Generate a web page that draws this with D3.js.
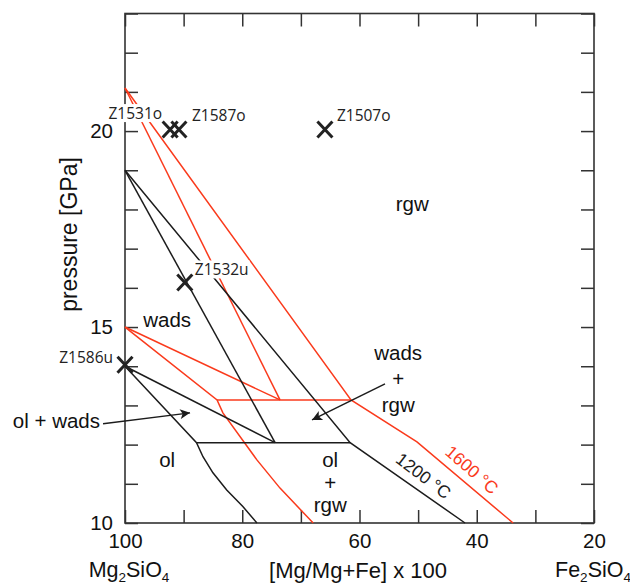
<!DOCTYPE html>
<html>
<head>
<meta charset="utf-8">
<script src="https://cdn.jsdelivr.net/npm/d3@7/dist/d3.min.js"></script>
<style>
  html, body { margin: 0; padding: 0; background: #fff; }
  svg { display: block; }
</style>
</head>
<body>
<div id="chart"></div>
<script>
// ---------------- data ----------------
// x: Mg# = [Mg/(Mg+Fe)] x 100 ; y: pressure in GPa
const xTickValues = [100, 90, 80, 70, 60, 50, 40, 30, 20];
const xTickLabels = [100, 80, 60, 40, 20];
const yTickValues = [10, 11, 12, 13, 14, 15, 16, 17, 18, 19, 20, 21, 22, 23];
const yTickLabels = [10, 15, 20];

// 1200 °C phase boundaries
const black_rgw_boundary   = [[100, 19.0], [61.6, 12.05], [42.0, 10.0]];
const black_wads_boundary  = [[100, 19.0], [74.4, 12.05]];
const black_olwads_upper   = [[100, 14.0], [74.4, 12.05]];
const black_ol_boundary    = [[100, 14.0], [87.8, 12.05], [86.7, 11.69], [85.0, 11.28], [82.65, 10.84], [79.9, 10.42], [77.5, 10.0]];
const black_tie            = [[87.8, 12.05], [61.6, 12.05]];

// 1600 °C phase boundaries
const red_rgw_boundary     = [[100, 21.1], [61.45, 13.14], [50.2, 12.07], [33.8, 10.0]];
const red_wads_boundary    = [[100, 21.1], [73.56, 13.14]];
const red_olwads_upper     = [[100, 15.0], [73.56, 13.14]];
const red_ol_boundary      = [[100, 15.0], [84.3, 13.14], [83.3, 12.81], [77.5, 11.61], [73.56, 10.89], [67.9, 10.0]];
const red_tie              = [[84.3, 13.14], [61.45, 13.14]];

// experiments
const sampleNames = ["Z1531o", "Z1587o", "Z1507o", "Z1532u", "Z1586u"];
const sampleMg    = [92.3, 90.8, 65.9, 89.8, 100.0];
const sampleP     = [20.0, 20.0, 20.0, 16.1, 14.0];

// ---------------- drawing ----------------
const W = 630, H = 584;
const RED = "#fa3a1c", INK = "#1c1c1c";
const FONT = "'Liberation Sans', Arial, Helvetica, sans-serif";
const SFONT = "'Open Sans', 'Noto Sans', sans-serif";

const svg = d3.select("#chart").append("svg").attr("width", W).attr("height", H);
const x = d3.scaleLinear().domain([100, 20]).range([125, 594]);
const y = d3.scaleLinear().domain([10, 23]).range([523, 13.5]);

const line = d3.line().x(d => x(d[0])).y(d => y(d[1]));

// axes
function styleAxis(g) {
  g.select(".domain").remove();
  g.selectAll(".tick line").attr("stroke", "#333").attr("stroke-width", 1.5);
  g.selectAll(".tick text").attr("fill", "#111").attr("font-family", FONT).attr("font-size", 20.5);
}
svg.append("g").attr("transform", `translate(0,${y(10)})`)
  .call(d3.axisBottom(x).tickValues(xTickValues).tickSize(-13).tickPadding(10)
    .tickFormat(d => xTickLabels.includes(d) ? d : ""))
  .call(styleAxis);
svg.append("g").attr("transform", `translate(0,${y(23)})`)
  .call(d3.axisTop(x).tickValues(xTickValues).tickSize(-13).tickFormat(""))
  .call(styleAxis);
svg.append("g").attr("transform", `translate(${x(100)},0)`)
  .call(d3.axisLeft(y).tickValues(yTickValues).tickSize(-13).tickPadding(12)
    .tickFormat(d => yTickLabels.includes(d) ? d : ""))
  .call(styleAxis);
svg.append("g").attr("transform", `translate(${x(20)},0)`)
  .call(d3.axisRight(y).tickValues(yTickValues).tickSize(-13).tickFormat(""))
  .call(styleAxis);

svg.append("rect")
  .attr("x", x(100)).attr("y", y(23))
  .attr("width", x(20) - x(100)).attr("height", y(10) - y(23))
  .attr("fill", "none").attr("stroke", "#333").attr("stroke-width", 1.6);

// phase boundaries
const redLines = [red_rgw_boundary, red_wads_boundary, red_olwads_upper, red_ol_boundary, red_tie];
const blackLines = [black_rgw_boundary, black_wads_boundary, black_olwads_upper, black_ol_boundary, black_tie];
svg.append("g").selectAll("path").data(redLines).join("path")
  .attr("d", line).attr("fill", "none").attr("stroke", RED).attr("stroke-width", 1.5);
svg.append("g").selectAll("path").data(blackLines).join("path")
  .attr("d", line).attr("fill", "none").attr("stroke", INK).attr("stroke-width", 1.5);

// sample labels (with white background) and X markers
const labelOffsets = [[-8, -12, "end"], [13, -10.5, "start"], [12, -10, "start"], [10, -8.5, "start"], [-12, -3, "end"]];
const samples = sampleNames.map((n, i) => ({ name: n, mg: sampleMg[i], p: sampleP[i], off: labelOffsets[i] }));

const lg = svg.append("g");
samples.forEach(s => {
  const t = lg.append("text")
    .attr("x", x(s.mg) + s.off[0]).attr("y", y(s.p) + s.off[1])
    .attr("text-anchor", s.off[2])
    .attr("font-family", SFONT).attr("font-size", 15.5).attr("fill", "#222")
    .text(s.name);
  const bb = t.node().getBBox();
  lg.insert("rect", "text").attr("x", bb.x - 1).attr("y", bb.y + 2)
    .attr("width", bb.width + 2).attr("height", bb.height - 4).attr("fill", "#fff");
});
svg.append("g").selectAll("path").data(samples).join("path")
  .attr("d", d => {
    const cx = x(d.mg), cy = y(d.p) - 1.5, hw = 7.5, hh = 8;
    return `M${cx - hw},${cy - hh}L${cx + hw},${cy + hh}M${cx + hw},${cy - hh}L${cx - hw},${cy + hh}`;
  })
  .attr("stroke", "#222").attr("stroke-width", 3).attr("fill", "none");

// region labels
const regionTexts = [
  { t: "rgw", mg: 51.0, p: 17.95 },
  { t: "wads", mg: 92.8, p: 15.0 },
  { t: "ol", mg: 92.8, p: 11.43 },
  { t: "wads", mg: 53.4, p: 14.15 },
  { t: "+", mg: 53.4, p: 13.5 },
  { t: "rgw", mg: 53.4, p: 12.83 },
  { t: "ol", mg: 65.0, p: 11.43 },
  { t: "+", mg: 65.0, p: 10.84 },
  { t: "rgw", mg: 65.0, p: 10.28 }
];
svg.append("g").selectAll("text").data(regionTexts).join("text")
  .attr("x", d => x(d.mg)).attr("y", d => y(d.p))
  .attr("text-anchor", "middle")
  .attr("font-family", FONT).attr("font-size", 20.5).attr("fill", "#111")
  .text(d => d.t);

// ol + wads label at left
svg.append("text").attr("x", 100).attr("y", 428).attr("text-anchor", "end")
  .attr("font-family", FONT).attr("font-size", 20.5).attr("fill", "#111").text("ol + wads");

// arrows
const defs = svg.append("defs");
defs.append("marker").attr("id", "ah").attr("viewBox", "0 0 10 10")
  .attr("refX", 10).attr("refY", 5).attr("markerWidth", 15).attr("markerHeight", 10)
  .attr("markerUnits", "userSpaceOnUse").attr("orient", "auto")
  .append("path").attr("d", "M0,0L10,5L0,10L2.5,5Z").attr("fill", INK);
const arrows = [
  [[103.75, 12.53], [88.9, 12.81]],
  [[55.65, 13.55], [68.1, 12.63]]
];
svg.append("g").selectAll("path").data(arrows).join("path")
  .attr("d", line).attr("stroke", INK).attr("stroke-width", 1.5).attr("fill", "none")
  .attr("marker-end", "url(#ah)");

// isotherm labels
svg.append("text").attr("transform", `translate(${x(49.7)},${y(11.08)}) rotate(37)`)
  .attr("text-anchor", "middle").attr("font-family", FONT).attr("font-size", 17.5).attr("fill", INK)
  .text("1200 °C");
svg.append("text").attr("transform", `translate(${x(41.5)},${y(11.24)}) rotate(41)`)
  .attr("text-anchor", "middle").attr("font-family", FONT).attr("font-size", 17.5).attr("fill", RED)
  .text("1600 °C");

// axis titles
svg.append("text").attr("transform", `translate(77,${(148 + 321) / 2}) rotate(-90)`)
  .attr("text-anchor", "middle").attr("font-family", FONT).attr("font-size", 23).attr("fill", "#111")
  .text("pressure [GPa]");
svg.append("text").attr("x", 358).attr("y", 578).attr("text-anchor", "middle")
  .attr("font-family", FONT).attr("font-size", 22).attr("fill", "#111")
  .text("[Mg/Mg+Fe] x 100");

function formula(xp, parts) {
  const t = svg.append("text").attr("x", xp).attr("y", 577).attr("text-anchor", "middle")
    .attr("font-family", FONT).attr("font-size", 21.5).attr("fill", "#111");
  parts.forEach(p => {
    t.append("tspan").attr("font-size", p[1] ? 13.5 : 21.5).attr("dy", p[1] ? 5 : (p[2] ? -5 : 0)).text(p[0]);
  });
}
formula(129, [["Mg"], ["2", true], ["SiO", false, true], ["4", true]]);
formula(593, [["Fe"], ["2", true], ["SiO", false, true], ["4", true]]);
</script>
</body>
</html>
